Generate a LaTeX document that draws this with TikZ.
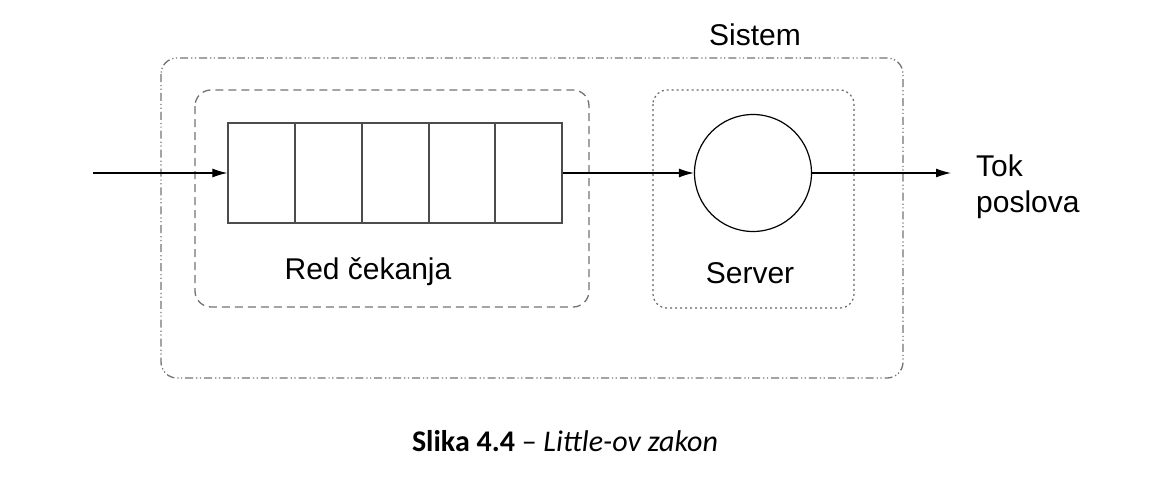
\documentclass[tikz,border=0pt]{standalone}
\usepackage{fontspec}
\setmainfont{Liberation Sans}
\newfontfamily\capfont{Carlito}
\usetikzlibrary{arrows.meta}
\begin{document}
\begin{tikzpicture}[x=1pt,y=-1pt,
  sysbox/.style={draw=black!55,line width=1.3pt,rounded corners=16pt,dash pattern=on 8pt off 3pt on 1.2pt off 2.5pt on 1.2pt off 3pt},
  queuebox/.style={draw=black!55,line width=1.3pt,rounded corners=16pt,dash pattern=on 8pt off 5pt},
  servbox/.style={draw=black!60,line width=1.2pt,rounded corners=14pt,dash pattern=on 2pt off 3pt},
  flow/.style={draw=black,line width=1.2pt,-{Latex[length=15pt,width=9pt]}},
  lbl/.style={font=\fontsize{30}{34}\selectfont,inner sep=0pt}]
\useasboundingbox (0,0) rectangle (1162,479);
\draw[sysbox] (161,58) rectangle (903,378);
\draw[queuebox] (195,90) rectangle (589,307);
\draw[servbox] (653,90) rectangle (854,308);
\node[draw=black!70,line width=1.3pt,minimum width=334pt,minimum height=100pt,inner sep=0pt] (queue) at (395,173) {};
\foreach \x in {295,362,429,495} \draw[black!70,line width=1.3pt] (\x,123) -- (\x,223);
\node[draw=black,line width=1.2pt,circle,minimum size=117pt,inner sep=0pt] (server) at (753,173) {};
\coordinate (in) at (93,173);
\coordinate (out) at (951,173);
\draw[flow] (in) -- (queue.west);
\draw[flow] (queue.east) -- (server.west);
\draw[flow] (server.east) -- (out);
\node[lbl] (sistem) at (755,35) {Sistem};
\node[lbl] (red) at (368,272) {Red čekanja};
\node[lbl] (srv) at (750,273) {Server};
\node[lbl,anchor=west,align=left] (tok) at (976,187) {Tok\\[2pt]poslova};
\node[inner sep=0pt,font=\capfont\fontsize{30}{34}\selectfont] (cap) at (565,441) {\textbf{Slika 4.4} – \textit{Little-ov zakon}};
\end{tikzpicture}
\end{document}
